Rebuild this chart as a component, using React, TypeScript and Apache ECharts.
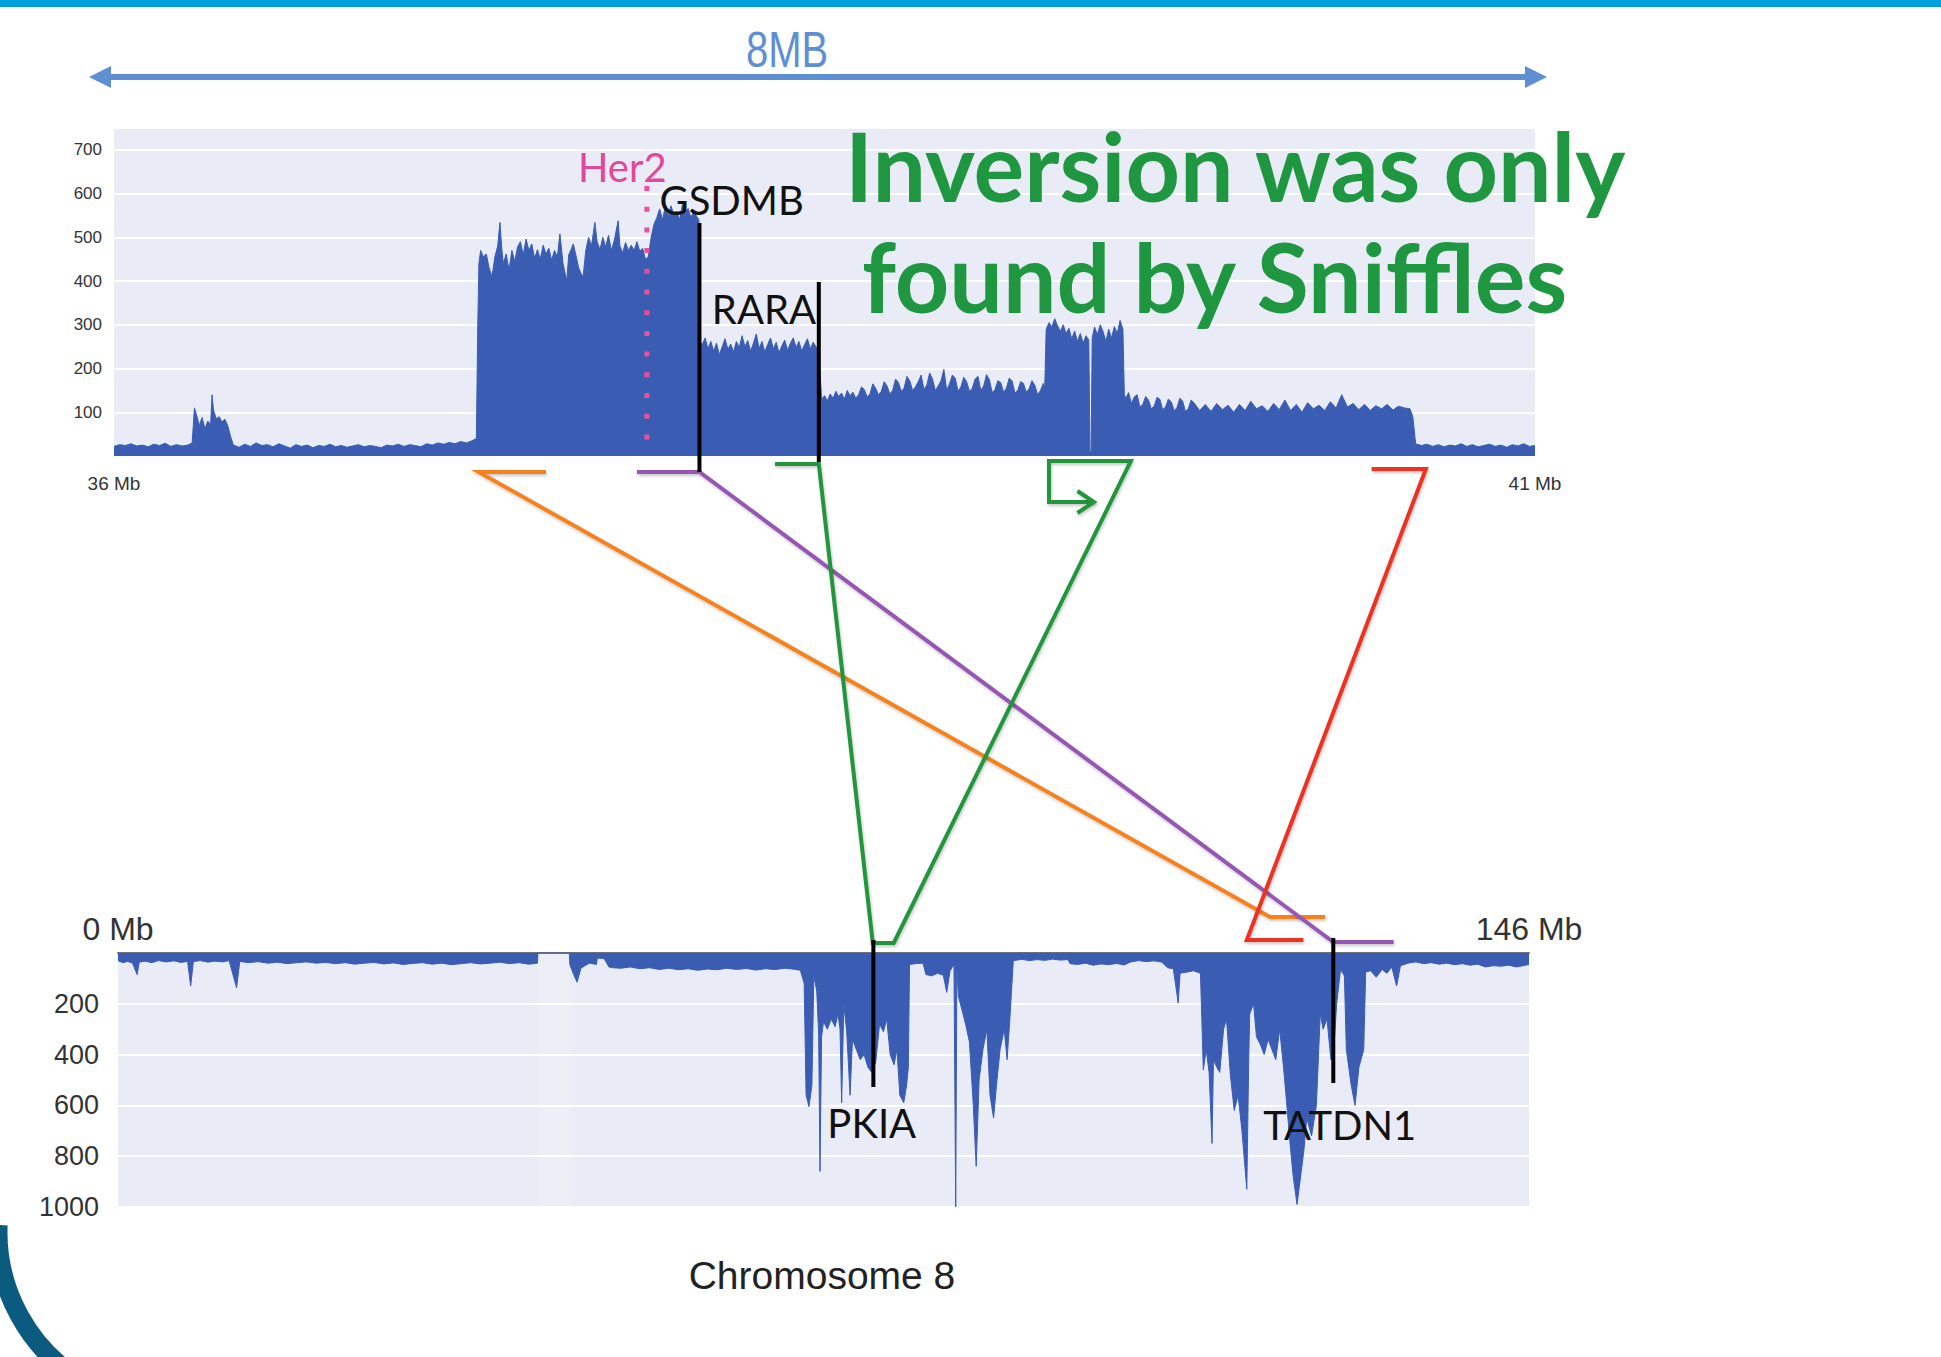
import React, { useEffect, useRef } from 'react';
import * as echarts from 'echarts';

// chr17 read coverage (position in Mb, depth)
const chr17Coverage: [number, number][] = [
  [36.0, 22], [36.02, 26], [36.04, 24], [36.06, 28], [36.08, 23], [36.1, 25], [36.12, 21], [36.14, 27], [36.16, 24], [36.18, 29],
  [36.2, 22], [36.22, 26], [36.24, 23], [36.26, 25], [36.275, 30], [36.283, 110], [36.29, 95], [36.3, 70], [36.31, 88], [36.32, 62],
  [36.33, 80], [36.34, 72], [36.345, 140], [36.35, 105], [36.36, 85], [36.37, 90], [36.38, 78], [36.39, 84], [36.4, 70], [36.41, 45],
  [36.42, 25], [36.44, 20], [36.46, 27], [36.48, 22], [36.5, 30], [36.52, 24], [36.54, 26], [36.56, 21], [36.58, 28], [36.6, 23],
  [36.62, 18], [36.64, 26], [36.66, 22], [36.68, 25], [36.7, 19], [36.72, 24], [36.74, 22], [36.76, 27], [36.78, 21], [36.8, 24],
  [36.82, 20], [36.84, 23], [36.86, 26], [36.88, 21], [36.9, 24], [36.92, 22], [36.94, 19], [36.96, 25], [36.98, 23], [37.0, 27],
  [37.02, 22], [37.04, 26], [37.06, 24], [37.08, 21], [37.1, 28], [37.12, 25], [37.14, 30], [37.16, 27], [37.18, 31], [37.2, 28],
  [37.22, 33], [37.24, 30], [37.26, 35], [37.275, 40], [37.28, 300], [37.284, 440], [37.29, 470], [37.3, 455], [37.31, 462], [37.32, 430],
  [37.33, 410], [37.34, 455], [37.35, 480], [37.358, 534], [37.365, 470], [37.37, 440], [37.38, 462], [37.39, 425], [37.4, 470], [37.41, 445],
  [37.42, 478], [37.43, 490], [37.44, 460], [37.45, 496], [37.46, 470], [37.47, 485], [37.48, 452], [37.49, 472], [37.5, 450], [37.51, 482],
  [37.52, 462], [37.53, 475], [37.54, 448], [37.55, 470], [37.56, 455], [37.569, 508], [37.58, 440], [37.593, 400], [37.6, 460], [37.61, 475],
  [37.616, 485], [37.625, 460], [37.635, 430], [37.645, 415], [37.651, 412], [37.66, 470], [37.67, 500], [37.68, 480], [37.692, 534], [37.7, 490],
  [37.71, 472], [37.72, 500], [37.73, 478], [37.74, 505], [37.75, 470], [37.76, 492], [37.774, 538], [37.78, 480], [37.79, 465], [37.8, 488],
  [37.81, 470], [37.82, 482], [37.83, 470], [37.84, 490], [37.85, 468], [37.86, 475], [37.87, 450], [37.88, 455], [37.89, 500], [37.9, 530],
  [37.91, 545], [37.92, 565], [37.93, 540], [37.94, 570], [37.95, 548], [37.96, 572], [37.97, 550], [37.98, 560], [37.99, 540], [38.0, 575],
  [38.01, 552], [38.02, 566], [38.03, 545], [38.04, 560], [38.05, 548], [38.058, 540], [38.062, 260], [38.07, 255], [38.08, 270], [38.09, 245],
  [38.1, 262], [38.11, 240], [38.12, 258], [38.13, 232], [38.14, 250], [38.15, 268], [38.16, 244], [38.17, 256], [38.18, 238], [38.19, 262],
  [38.2, 248], [38.21, 275], [38.22, 250], [38.23, 264], [38.24, 240], [38.25, 258], [38.26, 279], [38.27, 246], [38.28, 262], [38.29, 238],
  [38.3, 255], [38.31, 270], [38.32, 245], [38.33, 260], [38.34, 236], [38.35, 252], [38.36, 265], [38.37, 242], [38.38, 258], [38.39, 270],
  [38.4, 248], [38.41, 262], [38.42, 240], [38.43, 255], [38.44, 268], [38.45, 245], [38.46, 260], [38.47, 250], [38.48, 240], [38.49, 130],
  [38.5, 138], [38.51, 126], [38.52, 142], [38.53, 132], [38.54, 148], [38.55, 136], [38.56, 144], [38.57, 130], [38.58, 150], [38.59, 138],
  [38.6, 146], [38.61, 132], [38.62, 140], [38.63, 158], [38.64, 152], [38.65, 135], [38.66, 142], [38.67, 165], [38.68, 155], [38.69, 140],
  [38.7, 148], [38.71, 170], [38.72, 160], [38.73, 142], [38.74, 150], [38.75, 176], [38.76, 168], [38.77, 148], [38.78, 155], [38.79, 182],
  [38.8, 172], [38.81, 150], [38.82, 158], [38.83, 170], [38.84, 185], [38.85, 152], [38.86, 162], [38.87, 190], [38.88, 176], [38.89, 150],
  [38.9, 160], [38.91, 172], [38.92, 198], [38.93, 150], [38.94, 165], [38.95, 185], [38.96, 178], [38.97, 148], [38.98, 158], [38.99, 180],
  [39.0, 170], [39.01, 148], [39.02, 155], [39.03, 176], [39.04, 182], [39.05, 150], [39.06, 160], [39.07, 186], [39.08, 175], [39.09, 145],
  [39.1, 152], [39.11, 172], [39.12, 168], [39.13, 146], [39.14, 155], [39.15, 178], [39.16, 172], [39.17, 144], [39.18, 150], [39.19, 170],
  [39.2, 166], [39.21, 146], [39.22, 154], [39.23, 172], [39.24, 162], [39.25, 140], [39.26, 150], [39.27, 166], [39.275, 158], [39.28, 290],
  [39.29, 305], [39.3, 295], [39.31, 314], [39.32, 298], [39.33, 285], [39.34, 300], [39.35, 280], [39.36, 292], [39.37, 268], [39.38, 286],
  [39.39, 262], [39.4, 280], [39.41, 258], [39.42, 275], [39.43, 265], [39.434, 10], [39.438, 10], [39.442, 270], [39.45, 295], [39.46, 278],
  [39.47, 300], [39.48, 285], [39.49, 262], [39.5, 290], [39.51, 270], [39.52, 296], [39.53, 280], [39.54, 310], [39.55, 290], [39.555, 140],
  [39.56, 132], [39.57, 145], [39.58, 120], [39.59, 135], [39.6, 140], [39.61, 112], [39.62, 118], [39.63, 136], [39.64, 128], [39.65, 108],
  [39.66, 114], [39.67, 134], [39.68, 130], [39.69, 106], [39.7, 112], [39.71, 130], [39.72, 124], [39.73, 104], [39.74, 110], [39.75, 132],
  [39.76, 126], [39.77, 102], [39.78, 108], [39.79, 128], [39.8, 122], [39.82, 104], [39.84, 118], [39.86, 102], [39.88, 120], [39.9, 106],
  [39.92, 116], [39.94, 100], [39.96, 118], [39.98, 104], [40.0, 125], [40.02, 108], [40.04, 115], [40.06, 102], [40.08, 120], [40.1, 106],
  [40.12, 128], [40.14, 104], [40.16, 118], [40.18, 100], [40.2, 122], [40.22, 108], [40.24, 116], [40.26, 104], [40.28, 124], [40.3, 110],
  [40.32, 140], [40.34, 112], [40.36, 120], [40.38, 106], [40.4, 118], [40.42, 104], [40.44, 115], [40.46, 108], [40.48, 118], [40.5, 105],
  [40.52, 114], [40.54, 110], [40.56, 108], [40.57, 90], [40.58, 28], [40.6, 24], [40.62, 27], [40.64, 22], [40.66, 26], [40.68, 21],
  [40.7, 25], [40.72, 23], [40.74, 28], [40.76, 22], [40.78, 26], [40.8, 21], [40.82, 24], [40.84, 27], [40.86, 22], [40.88, 25],
  [40.9, 20], [40.92, 26], [40.94, 23], [40.96, 28], [40.98, 22], [41.0, 24],
];

// chr8 read coverage (position in Mb, depth), drawn downwards
const chr8Coverage: [number, number][] = [
  [0, 30], [0.5, 38], [1.0, 33], [1.5, 40], [1.98, 85], [2.2, 36], [2.8, 32], [3.5, 38], [4.2, 30], [5.0, 35],
  [5.8, 31], [6.5, 37], [7.2, 33], [7.52, 130], [7.8, 34], [8.5, 30], [9.3, 36], [10.0, 32], [10.8, 35], [11.5, 30],
  [12.27, 137], [12.6, 33], [13.5, 38], [14.5, 34], [15.5, 40], [16.5, 36], [17.5, 42], [18.5, 38], [19.5, 35], [20.5, 40],
  [21.5, 37], [22.5, 42], [23.5, 38], [24.5, 44], [25.5, 40], [26.5, 37], [27.5, 43], [28.5, 39], [29.5, 45], [30.5, 41],
  [31.5, 38], [32.5, 44], [33.5, 40], [34.5, 46], [35.5, 42], [36.5, 38], [37.5, 43], [38.5, 40], [39.5, 36], [40.5, 42],
  [41.5, 38], [42.5, 44], [43.4, 40], [43.45, 0], [46.7, 0], [46.75, 45], [47.1, 80], [47.5, 115], [47.9, 60], [48.3, 50],
  [48.8, 40], [49.5, 45], [49.6, 20], [50.3, 22], [50.8, 55], [51.2, 58], [52, 60], [53, 55], [54, 62], [55, 58],
  [56, 65], [57, 60], [58, 66], [59, 62], [60, 68], [61, 63], [62, 66], [63, 60], [64, 65], [65, 61],
  [66, 67], [67, 62], [68, 65], [69, 60], [70, 64], [70.6, 68], [71.0, 120], [71.2, 560], [71.5, 605], [71.8, 520],
  [72.0, 90], [72.3, 150], [72.5, 320], [72.64, 860], [72.8, 330], [73.0, 270], [73.4, 300], [73.8, 260], [74.2, 290], [74.5, 240],
  [74.71, 300], [74.88, 590], [75.1, 200], [75.4, 310], [75.75, 560], [76.0, 340], [76.4, 380], [76.8, 420], [77.2, 400], [77.6, 450],
  [78.0, 470], [78.4, 430], [78.8, 280], [79.2, 310], [79.54, 260], [79.9, 400], [80.3, 440], [80.6, 380], [80.9, 560], [81.3, 590],
  [81.6, 520], [81.78, 450], [81.9, 45], [82.5, 42], [83.3, 40], [83.6, 85], [84.2, 90], [84.8, 80], [85.4, 88], [85.75, 155],
  [86.1, 70], [86.5, 45], [86.68, 1000], [86.8, 60], [86.96, 170], [87.3, 220], [87.7, 280], [88.1, 350], [88.5, 600], [88.8, 840],
  [89.1, 500], [89.5, 380], [89.9, 300], [90.23, 560], [90.6, 650], [90.9, 520], [91.27, 380], [91.7, 300], [92.0, 420], [92.3, 250],
  [92.64, 30], [93.5, 25], [94.3, 30], [95.1, 26], [95.9, 29], [96.7, 24], [97.5, 28], [98.3, 26], [98.5, 42], [99.3, 45],
  [100.1, 40], [100.9, 48], [101.7, 43], [102.5, 46], [103.3, 41], [104.1, 47], [104.8, 35], [105.6, 30], [106.4, 34], [107.2, 31],
  [108.0, 36], [108.6, 58], [109.2, 62], [109.7, 197], [109.9, 80], [110.6, 75], [111.3, 70], [112.0, 80], [112.1, 200], [112.3, 460],
  [112.6, 380], [112.9, 470], [113.2, 750], [113.35, 420], [113.7, 450], [114.0, 470], [114.4, 300], [114.7, 260], [115.1, 480], [115.5, 620],
  [115.9, 560], [116.3, 700], [116.8, 930], [117.0, 420], [117.1, 240], [117.5, 200], [117.8, 330], [118.2, 360], [118.6, 400], [119.0, 340],
  [119.4, 380], [119.8, 420], [120.2, 300], [120.6, 450], [120.9, 580], [121.3, 760], [121.6, 880], [122.0, 990], [122.3, 900], [122.7, 780],
  [123.0, 650], [123.5, 720], [124.0, 600], [124.4, 240], [124.7, 300], [125.1, 260], [125.5, 420], [125.8, 380], [126.1, 200], [126.5, 65],
  [126.9, 90], [127.1, 380], [127.6, 520], [128.0, 600], [128.4, 450], [128.9, 380], [129.1, 75], [129.6, 70], [130.2, 95], [130.8, 65],
  [131.3, 80], [131.8, 55], [132.3, 130], [132.7, 50], [133.5, 40], [134.3, 35], [135.1, 42], [135.9, 38], [136.7, 44], [137.5, 40],
  [138.3, 46], [139.1, 42], [139.9, 48], [140.7, 44], [141.5, 55], [142.3, 50], [143.1, 52], [143.9, 48], [144.7, 55], [145.4, 50],
  [146, 45],
];

const centromereMb = [43.45, 46.7];

// genes (Mb)
const her2Mb = 37.875;
const topGeneNames = ['GSDMB', 'RARA'];
const topGeneMb = [38.06, 38.48];
const bottomGeneNames = ['PKIA', 'TATDN1'];
const bottomGeneMb = [78.16, 125.75];

// breakpoint brackets: [chr17 start, chr17 end] -> [chr8 start, chr8 end]
const orangeMb = { top: [37.52, 37.283], bottom: [119.2, 124.9] };
const purpleMb = { top: [37.84, 38.06], bottom: [125.75, 132.0] };
const greenMb = { top: [38.326, 38.48], bottom: [78.1, 80.27], topRight: [39.578, 39.29], arrow: [39.39, 39.448] };
const redMb = { top: [40.425, 40.616], bottom: [116.8, 122.65] };

const BLUE = '#3a5db3';
const PLOT_BG = '#e9ecf6';

function buildGraphics(chart: any) {
  const t = (mb: number) => chart.convertToPixel({ xAxisIndex: 0 }, mb) as number;
  const b = (mb: number) => chart.convertToPixel({ xAxisIndex: 1 }, mb) as number;
  const shadow = { shadowBlur: 3, shadowColor: 'rgba(0,0,0,0.22)', shadowOffsetX: 1, shadowOffsetY: 2 };
  const poly = (points: number[][], color: string) => ({
    type: 'polyline', z: 100, silent: true,
    shape: { points },
    style: { stroke: color, lineWidth: 4, fill: null, lineJoin: 'miter', ...shadow },
  });
  const vline = (x: number, y1: number, y2: number, color = '#000', w = 4) => ({
    type: 'line', z: 101, silent: true,
    shape: { x1: x, y1, x2: x, y2 },
    style: { stroke: color, lineWidth: w },
  });
  const text = (x: number, y: number, str: string, opts: any) => ({
    type: 'text', z: 102, silent: true, x, y,
    style: { text: str, textAlign: 'left', textVerticalAlign: 'middle', ...opts },
  });

  const els: any[] = [];
  // top cyan bar
  els.push({ type: 'rect', z: 100, shape: { x: 0, y: 0, width: 1941, height: 7 }, style: { fill: '#009fdb' } });
  // bottom-left arc
  els.push({
    type: 'arc', z: 100,
    shape: { cx: 172, cy: 1232, r: 174, startAngle: 2.1, endAngle: Math.PI + 0.04, clockwise: true },
    style: { stroke: '#0b5b80', lineWidth: 19, fill: null },
  });
  // 8MB arrow
  const arrowColor = '#5f8fd3';
  els.push({ type: 'line', z: 100, shape: { x1: 105, y1: 77, x2: 1531, y2: 77 }, style: { stroke: arrowColor, lineWidth: 6 } });
  els.push({ type: 'polygon', z: 100, shape: { points: [[89, 77], [111, 66], [111, 88]] }, style: { fill: arrowColor } });
  els.push({ type: 'polygon', z: 100, shape: { points: [[1547, 77], [1525, 66], [1525, 88]] }, style: { fill: arrowColor } });
  els.push({
    type: 'text', z: 102, x: 787, y: 50, scaleX: 0.8,
    style: { text: '8MB', fill: arrowColor, fontSize: 50, fontFamily: 'Liberation Sans', textAlign: 'center', textVerticalAlign: 'middle' },
  });

  // Her2 dotted line + label
  const hx = t(her2Mb);
  els.push({
    type: 'line', z: 101, shape: { x1: hx, y1: 186, x2: hx, y2: 452 },
    style: { stroke: '#e8509b', lineWidth: 5, lineDash: [5, 15.7] },
  });
  els.push(text(hx - 69, 167, 'Her2', { fill: '#e2489a', fontSize: 40, fontFamily: 'Lato' }));

  // top genes
  const gx = t(topGeneMb[0]);
  const rx = t(topGeneMb[1]);
  els.push(vline(gx, 223, 472));
  els.push(vline(rx, 282, 462));
  els.push(text(gx - 40, 200, topGeneNames[0], { fill: '#111', fontSize: 40, fontFamily: 'Lato' }));
  els.push(text(rx - 107, 309, topGeneNames[1], { fill: '#111', fontSize: 40, fontFamily: 'Lato' }));

  // bottom genes
  const px = b(bottomGeneMb[0]);
  const tx = b(bottomGeneMb[1]);
  els.push(vline(px, 940, 1087));
  els.push(vline(tx, 938, 1083));
  els.push(text(px - 46, 1123, bottomGeneNames[0], { fill: '#111', fontSize: 40, fontFamily: 'Lato' }));
  els.push(text(tx - 70, 1125, bottomGeneNames[1], { fill: '#111', fontSize: 40, fontFamily: 'Lato' }));

  // connections
  els.push(poly([[t(orangeMb.top[0]), 472], [t(orangeMb.top[1]), 472], [b(orangeMb.bottom[0]), 917], [b(orangeMb.bottom[1]), 917]], '#f5821f'));
  els.push(poly([[t(purpleMb.top[0]), 472], [t(purpleMb.top[1]), 472], [b(purpleMb.bottom[0]), 942], [b(purpleMb.bottom[1]), 942]], '#9657b3'));
  els.push(poly([
    [t(greenMb.top[0]), 464], [t(greenMb.top[1]), 464], [b(greenMb.bottom[0]), 943], [b(greenMb.bottom[1]), 943],
    [t(greenMb.topRight[0]), 461], [t(greenMb.topRight[1]), 461], [t(greenMb.topRight[1]), 502], [t(greenMb.arrow[1]), 502],
  ], '#23953e'));
  els.push(poly([[t(greenMb.arrow[0]), 491], [t(greenMb.arrow[1]), 502], [t(greenMb.arrow[0]), 513]], '#23953e'));
  els.push(poly([[t(redMb.top[0]), 469], [t(redMb.top[1]), 469], [b(redMb.bottom[0]), 940], [b(redMb.bottom[1]), 940]], '#ee3322'));

  // headline
  els.push(text(845, 165, 'Inversion was only', { fill: '#1f9640', fontSize: 95, fontWeight: 'bold', fontFamily: 'Lato' }));
  els.push(text(862, 276, 'found by Sniffles', { fill: '#1f9640', fontSize: 95, fontWeight: 'bold', fontFamily: 'Lato' }));

  // chromosome label
  els.push({
    type: 'text', z: 102, x: 822, y: 1275,
    style: { text: 'Chromosome 8', fill: '#222', fontSize: 39, fontFamily: 'Liberation Sans', textAlign: 'center', textVerticalAlign: 'middle' },
  });
  return els;
}

export default function App() {
  const ref = useRef<HTMLDivElement>(null);
  useEffect(() => {
    document.body.style.margin = '0';
    document.body.style.overflow = 'hidden';
    const chart = echarts.init(ref.current as HTMLDivElement, null, { renderer: 'svg' });
    const axisFont = 'Liberation Sans';
    chart.setOption({
      animation: false,
      backgroundColor: '#ffffff',
      grid: [
        { left: 114, top: 128, width: 1421, height: 328, show: true, backgroundColor: PLOT_BG, borderWidth: 0 },
        { left: 118, top: 953, width: 1411, height: 254, show: true, backgroundColor: PLOT_BG, borderWidth: 0 },
      ],
      xAxis: [
        {
          type: 'value', gridIndex: 0, min: 36, max: 41, interval: 1,
          axisLine: { show: false }, axisTick: { show: false }, splitLine: { show: false },
          axisLabel: {
            formatter: (v: number) => (v === 36 || v === 41 ? `${v} Mb` : ''),
            fontSize: 19, color: '#333', margin: 18, fontFamily: axisFont,
          },
        },
        {
          type: 'value', gridIndex: 1, position: 'top', min: 0, max: 146, interval: 146,
          axisLine: { show: true, onZero: false, lineStyle: { color: '#6e7079', width: 2 } },
          axisTick: { show: false }, splitLine: { show: false },
          axisLabel: { formatter: (v: number) => `${v} Mb`, fontSize: 32, color: '#333', margin: 8, fontFamily: axisFont },
        },
      ],
      yAxis: [
        {
          type: 'value', gridIndex: 0, min: 0, max: 750, interval: 100,
          axisLine: { show: false }, axisTick: { show: false },
          splitLine: { lineStyle: { color: '#ffffff', width: 2 } },
          axisLabel: {
            formatter: (v: number) => (v > 0 && v <= 700 ? String(v) : ''),
            fontSize: 17, color: '#333', margin: 12, fontFamily: axisFont,
          },
        },
        {
          type: 'value', gridIndex: 1, inverse: true, min: 0, max: 1000, interval: 200,
          axisLine: { show: false }, axisTick: { show: false },
          splitLine: { lineStyle: { color: '#ffffff', width: 2 } },
          axisLabel: {
            formatter: (v: number) => (v > 0 ? String(v) : ''),
            fontSize: 27, color: '#333', margin: 19, fontFamily: axisFont,
          },
        },
      ],
      series: [
        {
          type: 'line', xAxisIndex: 0, yAxisIndex: 0, data: chr17Coverage,
          symbol: 'none', showSymbol: false, silent: true,
          lineStyle: { width: 1, color: BLUE }, areaStyle: { color: BLUE, opacity: 1 },
        },
        {
          type: 'line', xAxisIndex: 1, yAxisIndex: 1, data: chr8Coverage,
          symbol: 'none', showSymbol: false, silent: true,
          lineStyle: { width: 1, color: BLUE }, areaStyle: { color: BLUE, opacity: 1 },
          markArea: {
            silent: true,
            itemStyle: { color: 'rgba(255,255,255,0.18)' },
            data: [[{ xAxis: centromereMb[0] }, { xAxis: centromereMb[1] }]],
          },
        },
      ],
    });
    chart.setOption({ graphic: buildGraphics(chart) });
    return () => chart.dispose();
  }, []);
  return <div ref={ref} style={{ width: 1941, height: 1357, background: '#ffffff' }} />;
}
